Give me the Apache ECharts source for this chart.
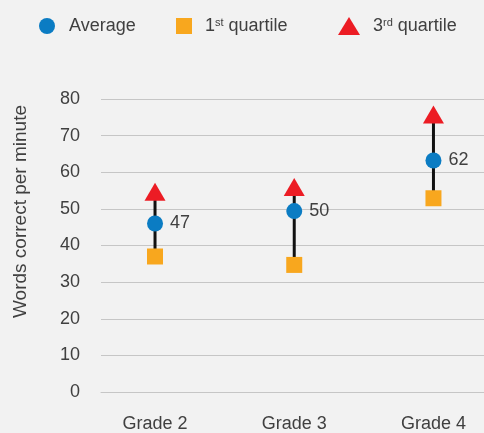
<!DOCTYPE html>
<html>
<head>
<meta charset="utf-8">
<script src="https://cdn.jsdelivr.net/npm/echarts@6/dist/echarts.min.js"></script>
<style>html,body{margin:0;padding:0;background:#f2f2f2;}#c{width:484px;height:433px;}</style>
</head>
<body>
<div id="c"></div>
<script>
var categories = ['Grade 2', 'Grade 3', 'Grade 4'];
var average = [46.0, 49.4, 63.2];
var averageLabels = ['47', '50', '62'];
var quartile1 = [37.0, 34.7, 52.9];
var quartile3 = [54.7, 56.0, 75.8];
var yTicks = [0, 10, 20, 30, 40, 50, 60, 70, 80];

var BLUE = '#0b7cc3', ORANGE = '#f8a71e', RED = '#ec1c24', TXT = '#404040';
var FONT = '"Liberation Sans", Arial, sans-serif';
var FS = 18;

var chart = echarts.init(document.getElementById('c'), null, {renderer: 'canvas'});

function pts(arr) { return arr.map(function (v, i) { return [i, v]; }); }

function legendText(pad) {
  return {fontSize: FS, color: TXT, fontFamily: FONT, padding: [0, 0, 0, pad],
    rich: {sup: {fontSize: 11, color: TXT, fontFamily: FONT, verticalAlign: 'top', lineHeight: 18}}};
}

chart.setOption({
  backgroundColor: '#f2f2f2',
  textStyle: {fontFamily: FONT},
  legend: [
    {left: 39, top: 17, padding: 0, itemWidth: 16, itemHeight: 16, selectedMode: false,
      data: [{name: 'Average', icon: 'circle'}], textStyle: legendText(9)},
    {left: 176, top: 17, padding: 0, itemWidth: 16, itemHeight: 16, selectedMode: false,
      data: [{name: '1st quartile', icon: 'rect'}], textStyle: legendText(8),
      formatter: function () { return '1{sup|st} quartile'; }},
    {left: 338, top: 17, padding: 0, itemWidth: 22, itemHeight: 18, selectedMode: false,
      data: [{name: '3rd quartile', icon: 'triangle'}], textStyle: legendText(8),
      formatter: function () { return '3{sup|rd} quartile'; }}
  ],
  grid: {left: 101, right: 0, top: 99, bottom: 39.5},
  xAxis: {
    type: 'value', min: -0.388, max: 2.363,
    splitLine: {show: false}, axisTick: {show: false},
    axisLine: {show: true, lineStyle: {color: '#c6c6c6', width: 1}},
    axisLabel: {customValues: [0, 1, 2], formatter: function (v) { return categories[Math.round(v)] || ''; },
      fontSize: FS, color: TXT, margin: 23, fontFamily: FONT}
  },
  yAxis: {
    type: 'value', min: 0, max: 80, interval: 10,
    axisLine: {show: false}, axisTick: {show: false},
    splitLine: {lineStyle: {color: '#c6c6c6', width: 1}},
    axisLabel: {fontSize: FS, color: TXT, margin: 21, fontFamily: FONT,
      customValues: yTicks}
  },
  graphic: [{
    type: 'text', x: 21, y: 211.5, rotation: Math.PI / 2,
    style: {text: 'Words correct per minute', fontSize: 19, fill: TXT, fontFamily: FONT,
      align: 'center', verticalAlign: 'middle'}
  }],
  series: [
    {
      type: 'custom', name: 'range', silent: true, z: 1,
      data: quartile1.map(function (q, i) { return [i, q, quartile3[i]]; }),
      renderItem: function (params, api) {
        var p1 = api.coord([api.value(0), api.value(1)]);
        var p2 = api.coord([api.value(0), api.value(2)]);
        return {type: 'line', shape: {x1: p1[0], y1: p1[1], x2: p2[0], y2: p2[1]},
          style: {stroke: '#111111', lineWidth: 3}};
      }
    },
    {type: 'scatter', name: '1st quartile', symbol: 'rect', symbolSize: 16, z: 3,
      itemStyle: {color: ORANGE, opacity: 1}, data: pts(quartile1)},
    {type: 'scatter', name: '3rd quartile', symbol: 'triangle', symbolSize: [21, 18], z: 3,
      itemStyle: {color: RED, opacity: 1}, data: pts(quartile3)},
    {type: 'scatter', name: 'Average', symbol: 'circle', symbolSize: 16, z: 4,
      itemStyle: {color: BLUE, opacity: 1}, data: pts(average),
      label: {show: true, position: 'right', distance: 7, fontSize: FS, color: TXT, fontFamily: FONT,
        formatter: function (p) { return averageLabels[p.dataIndex]; }}}
  ]
});
</script>
</body>
</html>
